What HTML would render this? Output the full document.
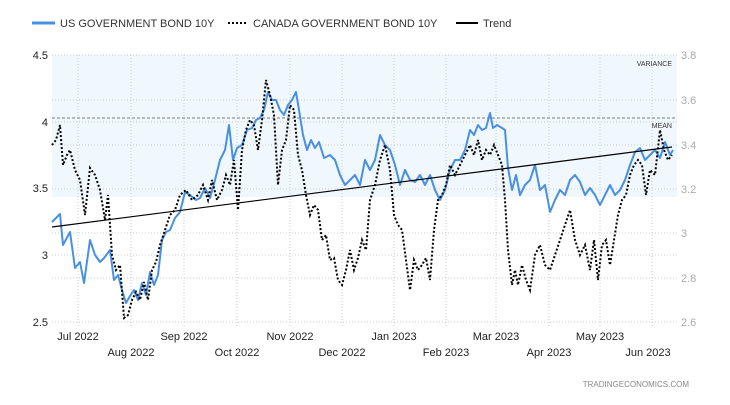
<!DOCTYPE html>
<html><head><style>
body{margin:0;background:#fff;font-family:"Liberation Sans",sans-serif;}
</style></head><body>
<svg width="730" height="400" xmlns="http://www.w3.org/2000/svg" font-family="Liberation Sans, sans-serif">
<rect width="730" height="400" fill="#fff"/>
<!-- legend -->
<line x1="32" y1="23" x2="55" y2="23" stroke="#4a90e2" stroke-width="3"/>
<text x="60" y="27" font-size="11" fill="#333">US GOVERNMENT BOND 10Y</text>
<line x1="228" y1="23" x2="248" y2="23" stroke="#000" stroke-width="2" stroke-dasharray="2,2"/>
<text x="253" y="27" font-size="11" fill="#333">CANADA GOVERNMENT BOND 10Y</text>
<line x1="456" y1="23" x2="478" y2="23" stroke="#000" stroke-width="2"/>
<text x="483" y="27" font-size="11" fill="#333">Trend</text>
<!-- shaded band -->
<rect x="52" y="55" width="625" height="142" fill="#f0f7fd"/>
<!-- grid -->
<g stroke="#ccc" stroke-dasharray="1,2" stroke-width="1">
<line x1="52" y1="55" x2="677" y2="55"/><line x1="52" y1="100" x2="677" y2="100"/>
<line x1="52" y1="145" x2="677" y2="145"/><line x1="52" y1="189" x2="677" y2="189"/>
<line x1="52" y1="233" x2="677" y2="233"/><line x1="52" y1="278" x2="677" y2="278"/>
<line x1="52" y1="322" x2="677" y2="322"/>
<line x1="52" y1="122" x2="677" y2="122"/><line x1="52" y1="255" x2="677" y2="255"/>
<line x1="78" y1="55" x2="78" y2="327"/><line x1="131" y1="55" x2="131" y2="327"/>
<line x1="184" y1="55" x2="184" y2="327"/><line x1="237" y1="55" x2="237" y2="327"/>
<line x1="290" y1="55" x2="290" y2="327"/><line x1="342" y1="55" x2="342" y2="327"/>
<line x1="394" y1="55" x2="394" y2="327"/><line x1="446" y1="55" x2="446" y2="327"/>
<line x1="496" y1="55" x2="496" y2="327"/><line x1="549" y1="55" x2="549" y2="327"/>
<line x1="600" y1="55" x2="600" y2="327"/><line x1="652" y1="55" x2="652" y2="327"/>
</g>
<line x1="52" y1="118" x2="677" y2="118" stroke="#555" stroke-dasharray="3,2" stroke-width="0.8"/>
<text x="672" y="66" font-size="7" fill="#333" text-anchor="end">VARIANCE</text>
<text x="672" y="128" font-size="7" fill="#333" text-anchor="end">MEAN</text>
<!-- left axis -->
<g font-size="11" fill="#222" text-anchor="end">
<text x="48" y="59">4.5</text><text x="48" y="126">4</text><text x="48" y="192">3.5</text>
<text x="48" y="259">3</text><text x="48" y="326">2.5</text></g>
<g font-size="11" fill="#aaa">
<text x="681" y="59">3.8</text><text x="681" y="104">3.6</text><text x="681" y="149">3.4</text>
<text x="681" y="193">3.2</text><text x="681" y="237">3</text><text x="681" y="282">2.8</text>
<text x="681" y="326">2.6</text></g>
<g font-size="11" fill="#222" text-anchor="middle">
<text x="78" y="340">Jul 2022</text><text x="184" y="340">Sep 2022</text><text x="290" y="340">Nov 2022</text>
<text x="394" y="340">Jan 2023</text><text x="496" y="340">Mar 2023</text><text x="600" y="340">May 2023</text>
<text x="131" y="356">Aug 2022</text><text x="237" y="356">Oct 2022</text><text x="342" y="356">Dec 2022</text>
<text x="446" y="356">Feb 2023</text><text x="549" y="356">Apr 2023</text><text x="648" y="356">Jun 2023</text></g>
<text x="689" y="387" font-size="8" fill="#888" text-anchor="end">TRADINGECONOMICS.COM</text>
<!-- series -->
<polyline fill="none" stroke="#4a90e2" stroke-width="2" stroke-linejoin="round" points="52,222 60,214 63,245 70,232 75,268 80,262 84,283 90,240 95,255 100,262 104,258 110,250 114,280 118,275 122,290 126,303 130,296 134,290 138,300 142,283 146,295 150,272 154,285 158,275 162,240 166,232 170,230 175,218 180,212 185,192 190,195 196,200 200,198 205,188 210,198 215,180 220,160 225,150 229,125 233,160 237,148 242,145 247,130 252,128 256,120 260,118 264,110 268,92 272,100 276,100 280,110 284,115 288,105 292,100 296,92 299,110 303,135 307,150 311,140 315,148 319,142 324,158 330,155 335,160 340,175 345,185 350,180 355,175 360,185 365,160 370,170 375,160 380,135 385,145 390,150 395,165 400,185 405,170 410,180 415,182 420,175 425,185 430,175 435,190 440,200 445,190 450,170 455,160 460,160 465,150 470,130 474,135 478,125 482,130 486,128 490,113 493,128 497,125 502,128 505,130 508,168 512,190 516,175 520,195 525,185 530,180 535,165 540,190 545,185 550,212 555,200 560,190 565,195 570,180 575,175 580,182 585,195 590,188 595,195 600,205 605,195 610,185 615,195 620,190 625,180 630,165 635,152 640,148 645,160 650,155 655,150 660,158 665,142 670,155 673,150"/>
<polyline fill="none" stroke="#000" stroke-width="2" stroke-dasharray="2,2" points="52,145 56,140 60,125 63,165 67,155 70,150 75,170 80,180 85,215 90,168 95,175 100,190 105,220 108,195 112,255 116,270 120,265 124,318 128,315 132,300 136,292 140,300 144,282 148,300 152,270 156,262 160,245 165,230 170,215 175,210 180,195 186,190 192,200 198,195 203,185 208,200 212,180 217,200 222,190 226,175 230,185 234,160 238,210 242,150 246,130 250,120 254,125 258,150 262,120 266,80 270,95 274,115 278,185 282,150 286,140 290,105 294,110 298,155 302,170 306,195 310,215 314,205 318,210 322,240 326,235 330,260 334,258 338,280 342,285 346,270 350,250 354,270 358,258 362,240 366,250 370,200 375,185 380,160 385,145 390,170 394,215 398,225 402,230 406,260 410,290 414,260 418,270 422,265 426,258 430,280 434,230 438,200 442,195 446,185 450,165 455,175 460,165 465,155 470,145 474,155 478,140 482,160 486,150 490,155 494,145 498,155 502,165 505,200 508,250 512,285 515,270 518,285 522,265 526,280 530,290 535,255 540,245 545,265 550,270 555,255 560,240 565,225 570,210 575,240 580,255 585,245 590,270 594,240 598,280 602,245 606,240 610,265 614,240 618,215 622,200 626,195 630,175 634,165 638,160 642,165 646,195 650,170 655,175 660,130 664,150 668,160 672,155"/>
<line x1="52" y1="227" x2="672" y2="147" stroke="#000" stroke-width="1.2"/>
</svg>
</body></html>
